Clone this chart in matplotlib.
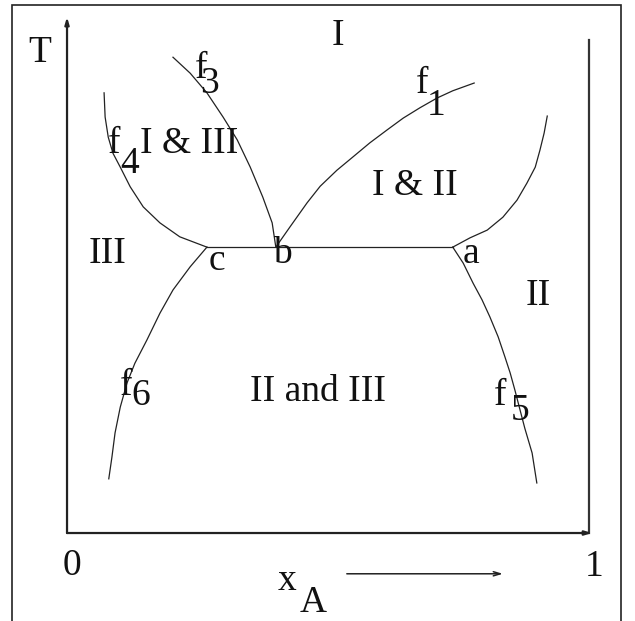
import matplotlib
matplotlib.use("Agg")
import matplotlib.pyplot as plt
from matplotlib.patches import Rectangle

# Phase diagram sketch: T vs mole fraction x_A, three phases I, II, III
# composition runs 0..1 on x, temperature is in arbitrary units (0..1)

# eutectic-like tie line through c, b, a
tie_x = [0.268, 0.400, 0.739]
tie_T = [0.554, 0.554, 0.554]

# f1: I / I&II boundary, starts at b going up right
f1_x = [0.400, 0.427, 0.460, 0.485, 0.517, 0.548, 0.580, 0.613, 0.644, 0.676, 0.709, 0.739, 0.780]
f1_T = [0.554, 0.593, 0.640, 0.672, 0.703, 0.729, 0.756, 0.781, 0.804, 0.824, 0.843, 0.857, 0.872]

# right upper curve (I&II / II), starts at a
f2_x = [0.739, 0.772, 0.805, 0.835, 0.862, 0.881, 0.897, 0.906, 0.914, 0.920]
f2_T = [0.554, 0.572, 0.587, 0.612, 0.645, 0.678, 0.709, 0.742, 0.775, 0.808]

# f3: I / I&III boundary, starts at b going up left
f3_x = [0.400, 0.393, 0.375, 0.351, 0.326, 0.299, 0.268, 0.236, 0.203]
f3_T = [0.554, 0.601, 0.651, 0.709, 0.762, 0.806, 0.853, 0.891, 0.922]

# f4: I&III / III boundary, starts at c
f4_x = [0.268, 0.216, 0.178, 0.146, 0.121, 0.102, 0.088, 0.079, 0.073, 0.071]
f4_T = [0.554, 0.574, 0.601, 0.632, 0.671, 0.709, 0.736, 0.767, 0.806, 0.853]

# f5: II / II&III solvus, from a downwards
f5_x = [0.739, 0.759, 0.778, 0.795, 0.810, 0.826, 0.839, 0.849, 0.858, 0.868, 0.877, 0.891, 0.900]
f5_T = [0.554, 0.523, 0.484, 0.452, 0.419, 0.380, 0.341, 0.310, 0.277, 0.238, 0.203, 0.155, 0.097]

# f6: III / II&III solvus, from c downwards
f6_x = [0.268, 0.236, 0.203, 0.178, 0.153, 0.130, 0.115, 0.102, 0.092, 0.086, 0.080]
f6_T = [0.554, 0.516, 0.471, 0.426, 0.374, 0.329, 0.291, 0.244, 0.194, 0.147, 0.105]

curves = [(tie_x, tie_T), (f1_x, f1_T), (f2_x, f2_T), (f3_x, f3_T),
          (f4_x, f4_T), (f5_x, f5_T), (f6_x, f6_T)]

plt.rcParams['font.family'] = ['Liberation Serif', 'DejaVu Serif']
FS = 27

fig = plt.figure(figsize=(6.35, 6.21), dpi=100)
ax = fig.add_axes([0, 0, 1, 1])
ax.set_xlim(-0.1284, 1.0881)
ax.set_ylim(-0.1705, 1.0329)
ax.axis("off")

# outer frame around the whole sketch (bottom edge is cut off in the original)
fig.add_artist(Rectangle((12 / 635, -0.05), (621 - 12) / 635, 1.05 - 5 / 621,
                         transform=fig.transFigure, fill=False,
                         edgecolor="#222222", lw=1.2))

# phase boundaries
for cx, cy in curves:
    ax.plot(cx, cy, color="#222222", lw=0.9, solid_joinstyle="round")

# axes: T arrow, x_A arrow and the x_A = 1 wall
ax.annotate("", xy=(0, 1.0), xytext=(0, 0),
            arrowprops=dict(arrowstyle="-|>,head_length=0.4,head_width=0.12",
                            color="#222222", lw=1.6, shrinkA=0, shrinkB=0))
ax.annotate("", xy=(1.006, 0), xytext=(0, 0),
            arrowprops=dict(arrowstyle="-|>,head_length=0.4,head_width=0.12",
                            color="#222222", lw=1.6, shrinkA=0, shrinkB=0))
ax.plot([1.0, 1.0], [0, 0.955], color="#333333", lw=1.6)
ax.annotate("", xy=(0.835, -0.079), xytext=(0.536, -0.079),
            arrowprops=dict(arrowstyle="->,head_length=0.5,head_width=0.15",
                            color="#222222", lw=1.1, shrinkA=0, shrinkB=0))

def label(x, y, s):
    ax.text(x, y, s, fontsize=FS, ha="center", va="baseline", color="#111111")

# region names
label(-0.052, 0.913, "T")
label(0.519, 0.946, "I")
label(0.234, 0.736, "I & III")
label(0.077, 0.523, "III")
label(0.667, 0.655, "I & II")
label(0.902, 0.442, "II")
label(0.481, 0.256, "II and III")

# points
label(0.287, 0.510, "c")
label(0.412, 0.523, "b")
label(0.774, 0.523, "a")

# curve names f + subscript (subscript sits well below, like the original)
label(0.257, 0.882, "f"); label(0.272, 0.853, "3")
label(0.090, 0.736, "f"); label(0.119, 0.698, "4")
label(0.680, 0.853, "f"); label(0.707, 0.810, "1")
label(0.113, 0.267, "f"); label(0.142, 0.248, "6")
label(0.830, 0.248, "f"); label(0.868, 0.219, "5")

# axis ends and x_A
label(0.010, -0.081, "0")
label(1.010, -0.083, "1")
label(0.421, -0.110, "x")
label(0.471, -0.153, "A")

plt.savefig("out.png", dpi=100)
